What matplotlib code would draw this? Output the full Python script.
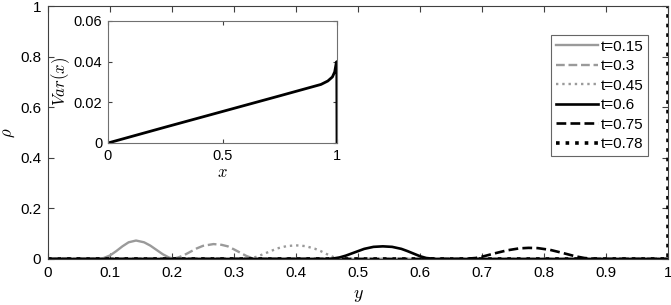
import matplotlib

matplotlib.use("Agg")
import matplotlib.pyplot as plt
from matplotlib.ticker import FuncFormatter

plt.rcParams["font.family"] = ["Liberation Sans", "DejaVu Sans"]
plt.rcParams["mathtext.fontset"] = "cm"

# density profiles rho(y) at several times
y15 = [0, 0.08, 0.09, 0.10, 0.11, 0.12, 0.13, 0.142, 0.155, 0.165, 0.175, 0.185, 0.195, 0.205, 1]
r15 = [0, 0, 0.004, 0.014, 0.031, 0.050, 0.066, 0.073, 0.066, 0.053, 0.036, 0.019, 0.006, 0, 0]

y30 = [0, 0.20, 0.21, 0.22, 0.23, 0.24, 0.25, 0.267, 0.28, 0.29, 0.30, 0.31, 0.32, 0.33, 0.335, 1]
r30 = [0, 0, 0.006, 0.016, 0.029, 0.042, 0.052, 0.059, 0.056, 0.050, 0.038, 0.025, 0.012, 0.003, 0, 0]

y45 = [0, 0.32, 0.33, 0.34, 0.35, 0.36, 0.37, 0.385, 0.40, 0.415, 0.43, 0.44, 0.45, 0.46, 0.47, 0.475, 1]
r45 = [0, 0, 0.004, 0.012, 0.022, 0.032, 0.042, 0.051, 0.054, 0.051, 0.041, 0.031, 0.019, 0.008, 0.002, 0, 0]

y60 = [0, 0.455, 0.47, 0.48, 0.49, 0.50, 0.51, 0.525, 0.54, 0.555, 0.57, 0.58, 0.59, 0.60, 0.61, 0.625, 1]
r60 = [0, 0, 0.006, 0.013, 0.022, 0.031, 0.040, 0.048, 0.050, 0.048, 0.040, 0.031, 0.021, 0.011, 0.004, 0, 0]

y75 = [0, 0.67, 0.69, 0.70, 0.72, 0.74, 0.76, 0.775, 0.79, 0.81, 0.83, 0.85, 0.865, 0.885, 1]
r75 = [0, 0, 0.004, 0.009, 0.022, 0.034, 0.042, 0.044, 0.043, 0.036, 0.024, 0.011, 0.004, 0, 0]

y78 = [0, 0.998, 1.0, 1.0]
r78 = [0, 0, 0, 1.2]

# variance inset
xv = [0, 0.25, 0.5, 0.75, 0.93, 0.96, 0.98, 0.99, 0.997, 0.999, 1.0]
var = [0, 0.0078, 0.0155, 0.0232, 0.0288, 0.0305, 0.0325, 0.0350, 0.0395, 0.040, 0]

gray = "#9a9a9a"
spine = "#404040"

fig = plt.figure(figsize=(6.71, 3.05), dpi=100)
ax = fig.add_axes([48 / 671, 1 - 259 / 305, 620 / 671, 253 / 305])

ax.plot(y15, r15, "-", color=gray, lw=1.7, label="t=0.15")
ax.plot(y30, r30, "--", color=gray, lw=1.7, label="t=0.3")
ax.plot(y45, r45, ":", color=gray, lw=1.7, label="t=0.45")
ax.plot(y60, r60, "-", color="black", lw=1.9, label="t=0.6")
ax.plot(y75, r75, "--", color="black", lw=1.9, label="t=0.75")
ax.plot(y78, r78, ":", color="black", lw=2.6, label="t=0.78")

ax.set_xlim(0, 1)
ax.set_ylim(0, 1)
ax.set_xticks([i / 10 for i in range(11)])
ax.set_yticks([0, 0.2, 0.4, 0.6, 0.8, 1])
fmt = FuncFormatter(lambda v, p: f"{v:g}")
ax.xaxis.set_major_formatter(fmt)
ax.yaxis.set_major_formatter(fmt)
ax.tick_params(direction="in", top=True, right=True, labelsize=11, length=4,
               color=spine, pad=5)
for s in ax.spines.values():
    s.set_color(spine)
    s.set_linewidth(0.8)
ax.set_xlabel("$y$", fontsize=13, labelpad=5)
ax.set_ylabel(r"$\rho$", fontsize=12, labelpad=0)
ax.yaxis.set_label_coords(-31 / 620, 0.5)

leg = ax.legend(loc="upper right", bbox_to_anchor=(648 / 671, 1 - 35 / 305),
                bbox_transform=fig.transFigure, fontsize=11, frameon=True,
                fancybox=False, handlelength=2.8, handletextpad=0.15,
                labelspacing=0.36, borderpad=0.3, borderaxespad=0)
leg.get_frame().set_edgecolor(spine)
leg.get_frame().set_linewidth(0.8)

ins = fig.add_axes([108 / 671, 1 - 143 / 305, 229 / 671, 122 / 305])
ins.plot(xv, var, "-", color="black", lw=2)
ins.set_xlim(0, 1)
ins.set_ylim(0, 0.06)
ins.set_xticks([0, 0.5, 1])
ins.set_yticks([0, 0.02, 0.04, 0.06])
ins.xaxis.set_major_formatter(fmt)
ins.yaxis.set_major_formatter(fmt)
ins.tick_params(direction="in", top=True, right=True, labelsize=10.5, length=3,
                color=spine, pad=4)
for s in ins.spines.values():
    s.set_color("#707070")
    s.set_linewidth(0.8)
ins.set_xlabel("$x$", fontsize=12, labelpad=2)
ins.set_ylabel("$Var(x)$", fontsize=12, labelpad=1)

fig.savefig("out.png", dpi=100)
